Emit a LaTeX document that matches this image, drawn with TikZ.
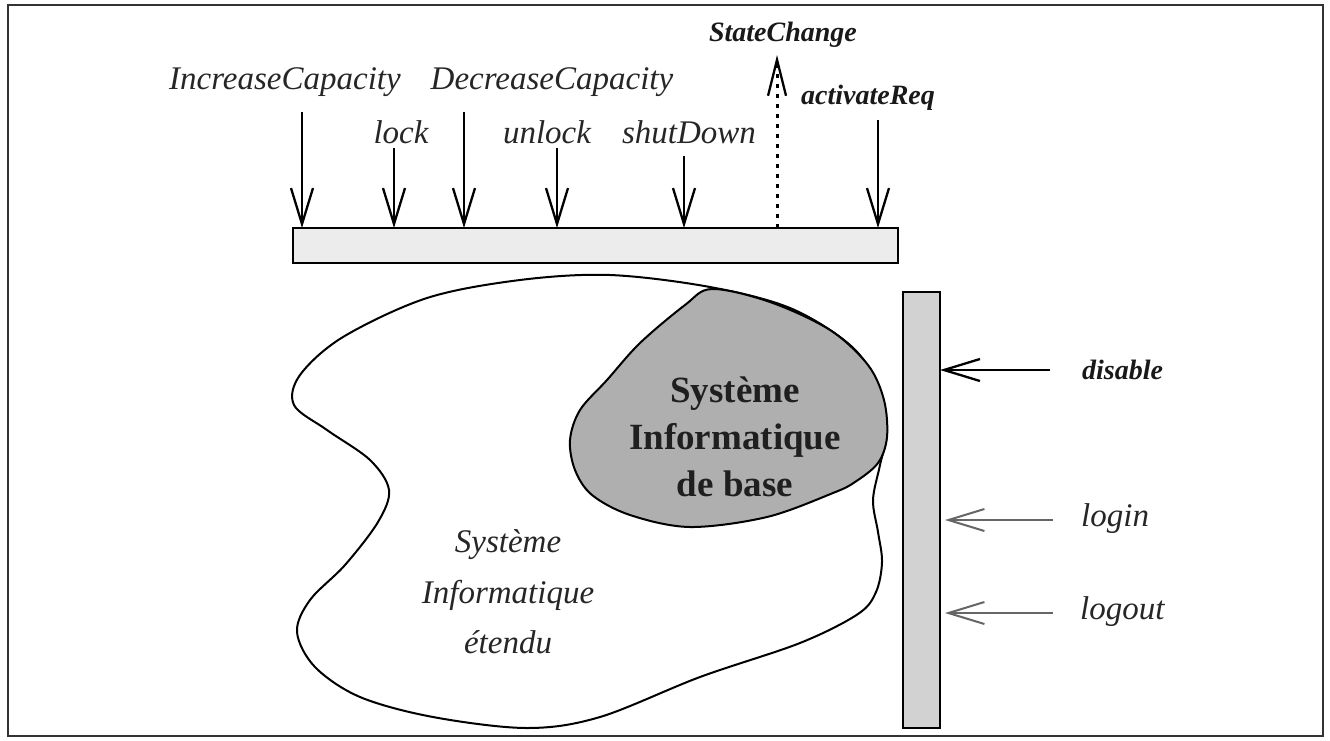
\documentclass[tikz,border=0pt]{standalone}
\usepackage{fontspec}
\setmainfont{Liberation Serif}
\usetikzlibrary{arrows.meta}
\tikzset{
  sig/.style={line width=2.3pt, -{Straight Barb[length=36pt,width=22pt]}},
  sigl/.style={line width=2pt, draw=black!60, -{Straight Barb[length=36pt,width=22pt]}},
  lab/.style={inner sep=0pt, font=\fontsize{33}{40}\selectfont\itshape, text=black!85},
  blab/.style={inner sep=0pt, font=\fontsize{28}{34}\selectfont\bfseries\itshape, text=black!90},
  barbox/.style={draw, line width=2.2pt, inner sep=0pt, outer sep=0pt},
}
\begin{document}
\begin{tikzpicture}[x=1pt,y=-1pt]
\useasboundingbox (0,0) rectangle (1330,740);
\draw[line width=2pt, black!80] (8,5) rectangle (1323,736);

% outer blob (extended system)
\draw[line width=2pt, fill=white] plot[smooth cycle, tension=0.55] coordinates {
 (520,280) (610,275) (710,287) (790,308) (850,345) (878,385) (887,430) (880,465)
 (873,500) (878,532) (882,562) (876,592) (858,614) (800,643) (700,677) (600,717)
 (527,728) (433,717) (360,697) (315,667) (297,632) (310,600) (345,565) (378,522)
 (389,490) (370,460) (327,430) (294,405) (300,375) (343,337) (427,298)};

% inner blob (base system)
\draw[line width=2pt, fill=gray!63] plot[smooth cycle, tension=0.55] coordinates {
 (712,289) (770,302) (830,330) (868,365) (884,400) (887,437) (878,463) (855,482)
 (833,493) (767,517) (690,527) (630,515) (592,495) (575,470) (570,440) (580,410)
 (607,380) (640,343) (685,305)};

\node[inner sep=0pt, align=center, text=black!88,
      font=\fontsize{37}{47}\selectfont\bfseries] (base) at (735,437)
      {Système\\Informatique\\de base};
\node[inner sep=0pt, align=center, text=black!85,
      font=\fontsize{33}{50.5}\selectfont\itshape] (ext) at (508,592)
      {Système\\Informatique\\étendu};

% bars
\node[barbox, fill=gray!15, minimum width=605pt, minimum height=35pt] (hbar) at (595.5,245.5) {};
\node[barbox, fill=gray!35, minimum width=37pt, minimum height=436pt] (vbar) at (921.5,510) {};

% top labels
\node[lab] (incL) at (285,82) {IncreaseCapacity};
\node[lab] (decL) at (552,82) {DecreaseCapacity};
\node[lab] (lockL) at (401,132) {lock};
\node[lab] (unlockL) at (547,132) {unlock};
\node[lab] (shutL) at (689,132) {shutDown};
\node[blab] (stateL) at (783,35) {StateChange};
\node[blab] (actL) at (868,98) {activateReq};

% top arrows
\coordinate (incS) at (302,112);
\coordinate (lockS) at (394,148);
\coordinate (decS) at (464,112);
\coordinate (unlockS) at (557,148);
\coordinate (shutS) at (684,156);
\coordinate (actS) at (878,120);
\coordinate (stateT) at (777,55);
\draw[sig] (incS) -- (incS |- hbar.north);
\draw[sig] (lockS) -- (lockS |- hbar.north);
\draw[sig] (decS) -- (decS |- hbar.north);
\draw[sig] (unlockS) -- (unlockS |- hbar.north);
\draw[sig] (shutS) -- (shutS |- hbar.north);
\draw[sig] (actS) -- (actS |- hbar.north);
\draw[line width=3pt, dash pattern=on 4pt off 6pt,
      -{Straight Barb[length=36pt,width=18pt,line width=2.3pt]}] (stateT |- hbar.north) -- (stateT);

% right labels and arrows
\node[blab, anchor=west] (disL) at (1082,370) {disable};
\node[lab, anchor=west] (loginL) at (1081,519) {login};
\node[lab, anchor=west] (logoutL) at (1080,612) {logout};
\coordinate (disS) at (1050,370);
\coordinate (loginS) at (1053,520);
\coordinate (logoutS) at (1053,613);
\draw[sig] (disS) -- (disS -| vbar.east);
\draw[sigl] (loginS) -- ([xshift=5pt]loginS -| vbar.east);
\draw[sigl] (logoutS) -- ([xshift=5pt]logoutS -| vbar.east);
\end{tikzpicture}
\end{document}
